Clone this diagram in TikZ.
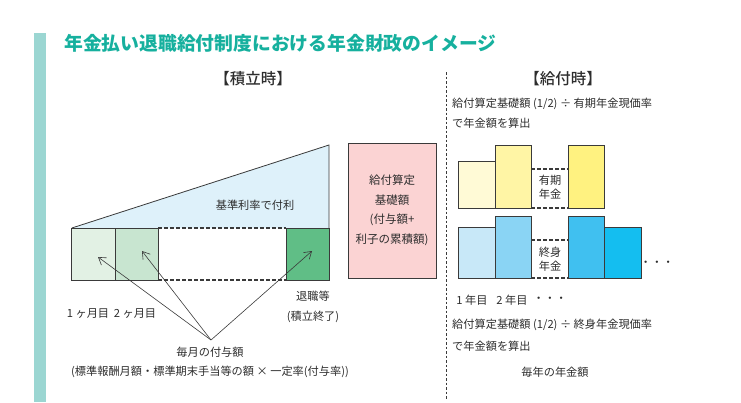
\documentclass[tikz,border=0pt]{standalone}
\usepackage{fontspec}
\setmainfont{Noto Sans CJK JP}
\newfontfamily\headfont{Noto Sans CJK JP Medium}
\usepackage{xcolor}
\usetikzlibrary{arrows.meta, backgrounds, positioning}
\definecolor{titlecol}{RGB}{22,176,158}
\definecolor{barcol}{RGB}{155,214,210}
\definecolor{txtcol}{RGB}{45,45,45}
\definecolor{linecol}{RGB}{58,58,58}
\definecolor{skycol}{RGB}{222,241,250}
\definecolor{pinkcol}{RGB}{251,211,211}
\definecolor{mon1}{RGB}{226,241,228}
\definecolor{mon2}{RGB}{200,229,208}
\definecolor{mon3}{RGB}{96,190,134}
\definecolor{yel1}{RGB}{255,250,214}
\definecolor{yel2}{RGB}{255,245,165}
\definecolor{yel3}{RGB}{255,242,128}
\definecolor{blu1}{RGB}{200,232,248}
\definecolor{blu2}{RGB}{138,212,244}
\definecolor{blu3}{RGB}{64,192,240}
\definecolor{blu4}{RGB}{20,190,240}

\begin{document}
\begin{tikzpicture}[x=1pt, y=-1pt,
      text=txtcol,
      every node/.style={inner sep=1pt},
      txt/.style={font=\fontsize{11.2}{14}\selectfont},
      head/.style={font=\headfont\fontsize{15.5}{18}\selectfont},
      box/.style={draw=linecol, line width=0.9pt, outer sep=0pt, inner sep=0pt},
      gap/.style={draw=linecol, line width=1.1pt, dash pattern=on 3.5pt off 2.5pt},
      arr/.style={draw=linecol, line width=0.6pt, -{Straight Barb[length=7pt,width=9pt]}}]
      \useasboundingbox (0,0) rectangle (741,402);
      \fill[barcol] (34,33) rectangle (46,402);
      \node[anchor=west, text=titlecol, font=\fontsize{18.8}{22}\selectfont\bfseries] (title) at (63,43) {年金払い退職給付制度における年金財政のイメージ};
      % accumulation side
      \node[head] (hacc) at (253,79) {【積立時】};
      \node[box, fill=mon1, minimum width=43.3, minimum height=52] (m1) at (93.5,254) {};
      \node[box, fill=mon2, minimum width=43, minimum height=52, right=0pt of m1] (m2) {};
      \node[box, fill=mon3, minimum width=43, minimum height=52] (m3) at (307.5,254) {};
      \coordinate (apex) at (m3.east |- 0,145);
      \begin{scope}[on background layer]
        \fill[skycol] (m1.north west) -- (apex) -- (m3.north east) -- cycle;
      \end{scope}
      \draw[linecol, line width=0.8pt] (m1.north west) -- (apex) -- (m3.north east);
      \draw[gap] (m2.north east) -- (m3.north west);
      \draw[gap] (m2.south east) -- (m3.south west);
      \node[txt] (rate) at (255,205) {基準利率で付利};
      \node[box, fill=pinkcol, minimum width=88, minimum height=135, align=center,
        font=\fontsize{11.5}{19.5}\selectfont] (base) at (392,210.5) {給付算定\\基礎額\\(付与額+\\利子の累積額)};
      \node[txt] (l1) at (88,314) {1 ヶ月目};
      \node[txt] (l2) at (135,314) {2 ヶ月目};
      \node[txt, align=center, font=\fontsize{11.2}{20}\selectfont] (ret) at (313,307) {退職等\\(積立終了)};
      \node[txt, align=center, font=\fontsize{11.2}{19}\selectfont] (pay) at (210,362.5) {毎月の付与額\\(標準報酬月額・標準期末手当等の額 × 一定率(付与率))};
      \coordinate (src) at (211,340);
      \coordinate (t1) at (98,257);
      \coordinate (t2) at (142,251);
      \coordinate (t3) at (312,251);
      \foreach \t in {t1,t2,t3}
        \draw[arr] (src) -- (\t);
      % payment side
      \draw[linecol, line width=0.6pt, dash pattern=on 2.5pt off 2pt] (446,72) coordinate (sepT) -- (446,400) coordinate (sepB);
      \node[head] (hpay) at (563,79) {【給付時】};
      \node[txt, anchor=west] (f1) at (451,104) {給付算定基礎額 (1/2) ÷ 有期年金現価率};
      \node[txt, anchor=west] (f2) at (451,123) {で年金額を算出};
      \node[box, fill=yel1, minimum width=37, minimum height=47, anchor=south west] (y1) at (458,208) {};
      \node[box, fill=yel2, minimum width=36, minimum height=63, anchor=south west] (y2) at (y1.south east) {};
      \node[box, fill=yel3, minimum width=36, minimum height=63, anchor=south west] (y3) at (568,208) {};
      \draw[gap] (y2.east |- 0,169) -- (y3.west |- 0,169);
      \draw[gap] (y2.south east) -- (y3.south west);
      \node[txt, align=center, font=\fontsize{11.2}{14}\selectfont] (fixed) at (550,187) {有期\\年金};
      \node[box, fill=blu1, minimum width=37, minimum height=51, anchor=south west] (b1) at (458,278) {};
      \node[box, fill=blu2, minimum width=36, minimum height=62, anchor=south west] (b2) at (b1.south east) {};
      \node[box, fill=blu3, minimum width=36, minimum height=62, anchor=south west] (b3) at (568,278) {};
      \node[box, fill=blu4, minimum width=37, minimum height=51, anchor=south west] (b4) at (b3.south east) {};
      \draw[gap] (b2.east |- 0,240) -- (b3.west |- 0,240);
      \draw[gap] (b2.south east) -- (b3.south west);
      \node[txt, align=center, font=\fontsize{11.2}{14}\selectfont] (life) at (550,259) {終身\\年金};
      \node[txt] (more) at (657,264) {・・・};
      \node[txt] (y1l) at (472,300) {1 年目};
      \node[txt] (y2l) at (512,300) {2 年目};
      \node[txt] (yml) at (550,300) {・・・};
      \node[txt, anchor=west] (g1) at (451,325) {給付算定基礎額 (1/2) ÷ 終身年金現価率};
      \node[txt, anchor=west] (g2) at (451,346) {で年金額を算出};
      \node[txt] (annual) at (555,372) {毎年の年金額};
    \end{tikzpicture}
\end{document}
